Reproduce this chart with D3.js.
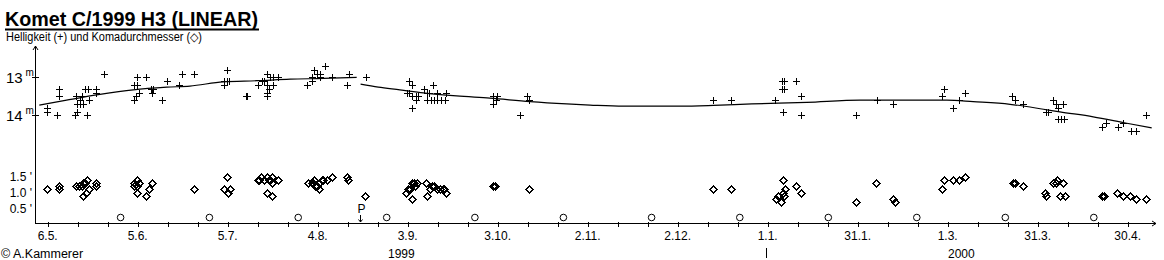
<!DOCTYPE html>
<html><head><meta charset="utf-8">
<script src="https://cdn.jsdelivr.net/npm/d3@7/dist/d3.min.js"></script>
<style>
html,body{margin:0;padding:0;background:#fff;}
svg{display:block;background:#fff;}
text{font-family:"Liberation Sans",Arial,Helvetica,sans-serif;fill:#000;}
</style></head><body>
<svg id="chart" width="1164" height="260"></svg>
<script>
// All x values are days after 1999-05-06 (0h UT)
const titleText = "Komet C/1999 H3 (LINEAR)";
const subtitleText = "Helligkeit (+) und Komadurchmesser (\u25C7)";
const creditText = "\u00A9 A.Kammerer";

const tickDays   = [0, 30, 60, 90, 120, 150, 180, 210, 240, 270, 300, 330, 360];
const tickLabels = ["6.5.", "5.6.", "5.7.", "4.8.", "3.9.", "3.10.", "2.11.", "2.12.", "1.1.", "31.1.", "1.3.", "31.3.", "30.4."];
const yearLabels = ["1999", "2000"];
const yearBoundaryDay = 240;            // 1.1.2000
const magTicks   = [13, 14];
const comaTicks  = [0.5, 1.0, 1.5];
const comaTickLabels = ["0.5 '", "1.0 '", "1.5 '"];
const perihelionDay = 104.1;

// total brightness estimates [day, magnitude]
const brightness = [
  [-0.3,13.8],[-0.3,13.9],[3.2,14.0],[3.9,13.3],[3.9,13.5],[9.1,14.0],[9.9,13.9],[9.4,13.5],[9.7,13.7],
  [10.8,13.7],[11.9,13.7],[10.8,13.6],[11.5,13.5],[12.5,13.3],[13.4,13.3],[13.0,14.0],[13.9,13.6],
  [16.0,13.3],[16.0,13.4],[18.9,12.9],
  [28.9,13.6],[29.4,13.5],[30.5,13.4],[28.9,13.2],[29.7,13.2],[29.9,13.0],[32.8,13.0],[34.3,13.3],
  [35.2,13.3],[34.9,13.4],[38.2,13.6],[39.9,13.1],[43.9,13.2],[44.8,12.9],
  [48.9,12.9],[59.9,12.8],[58.9,13.1],[59.7,13.1],[60.5,13.1],[58.9,13.2],[66.0,13.5],[66.3,13.5],
  [70.0,13.2],[71.3,13.1],[72.1,13.1],[73.0,12.9],[74.1,13.0],[75.0,13.0],[76.9,13.0],[73.0,13.2],
  [75.0,13.2],[73.9,13.3],[73.0,13.4],[73.0,13.5],
  [86.5,13.2],[88.0,13.0],[88.0,13.1],[88.9,12.8],[89.9,12.9],[90.8,12.9],[90.8,13.0],[92.5,12.7],
  [94.7,13.0],[100.5,12.9],[99.7,13.2],[106.0,13.0],
  [120.4,13.1],[121.5,13.2],[119.7,13.4],[120.4,13.4],[121.5,13.5],[122.7,13.5],[123.5,13.5],
  [122.7,13.6],[121.5,13.8],[125.5,13.3],[126.3,13.4],[127.2,13.4],[128.5,13.2],[129.7,13.4],
  [132.7,13.4],[126.5,13.6],[127.7,13.6],[128.8,13.6],[129.9,13.6],[131.0,13.6],[132.4,13.6],
  [148.5,13.5],[149.7,13.5],[148.5,13.7],[149.4,13.6],[157.4,14.0],[159.7,13.5],[160.5,13.6],
  [221.9,13.6],[227.8,13.6],[242.6,13.6],
  [244.7,13.1],[245.5,13.1],[249.4,13.1],[244.7,13.3],[245.3,13.3],[251.0,13.5],[245.0,13.9],[251.0,14.0],
  [269.3,14.0],[276.3,13.6],[281.9,13.7],
  [298.9,13.3],[298.0,13.5],[305.9,13.4],[303.9,13.6],[301.9,13.8],
  [321.5,13.5],[322.5,13.6],[325.0,13.7],
  [335.0,13.6],[336.1,13.7],[338.5,13.7],[336.7,13.8],[332.8,13.9],[333.5,13.9],[336.7,14.1],
  [337.8,14.1],[338.8,14.1],
  [351.5,14.3],[352.7,14.2],[356.7,14.3],[358.5,14.2],[361.1,14.4],[362.7,14.4],[366.0,14.0]
];

// coma diameter estimates [day, arcmin]
const coma = [
  [-0.1,1.1],[3.9,1.2],[3.9,1.1],
  [9.4,1.2],[10.5,1.2],[11.3,1.2],[11.7,1.3],[12.4,1.3],[13.2,1.4],[11.9,0.9],[12.8,1.0],[13.9,1.1],
  [16.0,1.3],[16.0,1.2],
  [28.9,1.3],[29.7,1.4],[30.5,1.3],[28.9,1.2],[29.7,1.2],[29.7,1.0],[32.8,0.9],[33.9,1.1],[34.9,1.3],
  [48.8,1.1],
  [59.7,1.5],[58.9,1.1],[60.8,1.1],[60.0,1.0],
  [70.0,1.4],[70.3,1.4],[71.1,1.5],[72.1,1.4],[73.0,1.5],[73.9,1.4],[74.2,1.4],[74.7,1.5],[74.7,1.3],
  [76.9,1.4],[73.0,1.0],[74.7,0.9],
  [86.9,1.3],[88.0,1.3],[88.3,1.3],[88.8,1.4],[89.0,1.2],[89.7,1.2],[90.5,1.1],[90.5,1.3],[91.3,1.4],
  [91.9,1.4],[93.0,1.4],[94.7,1.5],[99.7,1.5],[100.2,1.4],[105.8,0.9],
  [119.4,1.0],[120.2,1.1],[120.8,1.1],[121.5,0.8],[121.5,1.3],[122.2,1.3],[122.5,1.2],[123.0,1.3],
  [126.0,1.3],[126.5,0.9],[127.4,1.1],[128.0,1.2],[128.8,1.2],[129.7,1.1],[130.8,1.1],[131.9,1.1],
  [132.7,1.0],[132.2,1.1],
  [148.5,1.2],[149.0,1.2],[160.5,1.1],
  [221.7,1.1],[227.8,1.1],
  [242.7,0.8],[243.4,0.9],[244.3,0.7],[245.0,1.0],[245.3,0.9],[245.8,1.1],[245.0,1.4],[249.4,1.2],[251.0,1.0],
  [269.3,0.7],[276.1,1.3],[281.9,0.8],[282.4,0.7],
  [298.0,1.1],[298.9,1.4],[301.9,1.4],[303.9,1.4],[305.9,1.5],
  [321.9,1.3],[322.4,1.3],[325.0,1.2],
  [332.4,1.0],[332.8,0.9],[335.2,1.3],[336.1,1.3],[336.3,1.4],[338.5,1.3],[337.4,0.9],[339.1,0.9],
  [351.5,0.9],[352.0,0.9],[356.3,1.0],[358.5,0.9],[360.8,0.9],[362.7,0.8],[366.0,0.8]
];

// light-curve fit, before and after perihelion [day, magnitude]
const fitBefore = [
  [-2.8,13.73],[6.3,13.60],[17.4,13.45],[28.5,13.33],[39.7,13.26],[47.4,13.23],[58.5,13.12],
  [69.7,13.09],[80.8,13.05],[91.9,13.03],[103.0,13.00]
];
const fitAfter = [
  [104.3,13.18],[110.2,13.26],[117.4,13.33],[125.2,13.41],[136.3,13.49],[147.4,13.55],[160.8,13.64],
  [173.0,13.70],[180.8,13.73],[191.9,13.76],[210.8,13.76],[221.9,13.74],[234.7,13.70],[253.0,13.66],
  [270.8,13.60],[290.8,13.60],[299.7,13.60],[308.5,13.64],[320.8,13.71],[331.9,13.84],[337.4,13.91],
  [348.5,14.04],[359.7,14.21],[368.0,14.33]
];

// full moons
const fullMoons = [24.3, 53.9, 83.5, 113.0, 142.4, 171.9, 201.3, 230.7, 260.2, 289.7, 319.2, 348.7];

// ---------- drawing ----------
const svg = d3.select("#chart");
const axisX0 = 35.5, axisX1 = 1156, axisY = 223.5, axisTop = 46;

const x = d3.scaleLinear().domain([-4.2333, 369.1]).range([35, 1155]);
const yMag = d3.scaleLinear().domain([13, 14]).range([77.3, 115.3]);
const yComa = d3.scaleLinear().domain([0, 1.5]).range([224.5, 176.5]);

const px = v => Math.round(v);

// title
svg.append("text").attr("x", 5).attr("y", 26)
  .attr("font-size", 21).attr("font-weight", "bold")
  .attr("textLength", 253).attr("lengthAdjust", "spacingAndGlyphs")
  .text(titleText);
svg.append("rect").attr("x", 5).attr("y", 28.5).attr("width", 254).attr("height", 2).attr("fill", "#000");
svg.append("text").attr("x", 6).attr("y", 40.5)
  .attr("font-size", 12).attr("textLength", 196).attr("lengthAdjust", "spacingAndGlyphs")
  .text(subtitleText);

const g = svg.append("g").attr("stroke", "#000").attr("fill", "none").attr("shape-rendering", "crispEdges");

// y axis with arrow
g.append("path").attr("d", `M${axisX0},${axisTop}V${axisY}`);
g.append("path").attr("d", `M${axisX0-2.5},${axisTop+4}L${axisX0},${axisTop}L${axisX0+2.5},${axisTop+4}`)
  .attr("shape-rendering", "auto");
// x axis with arrow
g.append("path").attr("d", `M${axisX0},${axisY}H${axisX1}`);
g.append("path").attr("d", `M${axisX1-4},${axisY-2.5}L${axisX1},${axisY}L${axisX1-4},${axisY+2.5}`)
  .attr("shape-rendering", "auto");

// x ticks every 10 days
const minorDays = d3.range(tickDays[0], tickDays[tickDays.length-1] + 1, 10);
g.selectAll(".xt").data(minorDays).join("path")
  .attr("d", d => `M${px(x(d))+0.5},${axisY-2}V${axisY+3.5}`);

svg.selectAll(".xl").data(tickDays).join("text")
  .attr("x", d => x(d)).attr("y", 240).attr("font-size", 12).attr("text-anchor", "middle")
  .text((d, i) => tickLabels[i]);

// year labels
const yearCenters = [(x.range()[0] + x(yearBoundaryDay)) / 2, (x(yearBoundaryDay) + x.range()[1]) / 2];
svg.selectAll(".yl").data(yearLabels).join("text")
  .attr("x", (d, i) => yearCenters[i]).attr("y", 258).attr("font-size", 12).attr("text-anchor", "middle")
  .text(d => d);
g.append("path").attr("d", `M${px(x(yearBoundaryDay))-1.5},${248}V${258}`);

// credit
svg.append("text").attr("x", 1).attr("y", 258).attr("font-size", 12.5).text(creditText);

// magnitude ticks and labels
g.selectAll(".mt").data(magTicks).join("path")
  .attr("d", d => `M${32},${px(yMag(d))+0.5}H${39}`);
magTicks.forEach(m => {
  const yy = yMag(m);
  svg.append("text").attr("x", 6).attr("y", yy + 6).attr("font-size", 15).text(String(m));
  svg.append("text").attr("x", 25.5).attr("y", yy - 1.5).attr("font-size", 10).text("m");
});

// coma labels
svg.selectAll(".cl").data(comaTicks).join("text")
  .attr("x", 32).attr("y", d => yComa(d) + 4.5).attr("font-size", 12).attr("text-anchor", "end")
  .text((d, i) => comaTickLabels[i]);

// fit line
const line = d3.line().x(d => x(d[0])).y(d => yMag(d[1])).curve(d3.curveMonotoneX);
[fitBefore, fitAfter].forEach(seg => {
  svg.append("path").attr("d", line(seg)).attr("fill", "none").attr("stroke", "#000").attr("stroke-width", 1.2);
});

// brightness pluses
g.selectAll(".pl").data(brightness).join("path")
  .attr("d", d => {
    const cx = px(x(d[0])), cy = px(yMag(d[1]));
    return `M${cx-3},${cy+0.5}H${cx+4}M${cx+0.5},${cy-3}V${cy+4}`;
  });

// coma diamonds
g.selectAll(".dm").data(coma).join("path")
  .attr("d", d => {
    const cx = px(x(d[0])) + 0.5, cy = px(yComa(d[1])) + 0.5;
    return `M${cx},${cy-3.5}L${cx+3.5},${cy}L${cx},${cy+3.5}L${cx-3.5},${cy}Z`;
  });

// full moon circles
svg.selectAll(".fm").data(fullMoons).join("circle")
  .attr("cx", d => x(d)).attr("cy", axisY - 6).attr("r", 3.3)
  .attr("fill", "none").attr("stroke", "#000").attr("stroke-width", 1);

// perihelion marker
const pX = px(x(perihelionDay)) + 0.5;
svg.append("text").attr("x", pX + 1).attr("y", 213).attr("font-size", 12).attr("text-anchor", "middle").text("P");
g.append("path").attr("d", `M${pX},${215}V${222}`);
g.append("path").attr("d", `M${pX-2},${219.5}L${pX},${222}L${pX+2},${219.5}`).attr("shape-rendering", "auto");
</script>
</body></html>
